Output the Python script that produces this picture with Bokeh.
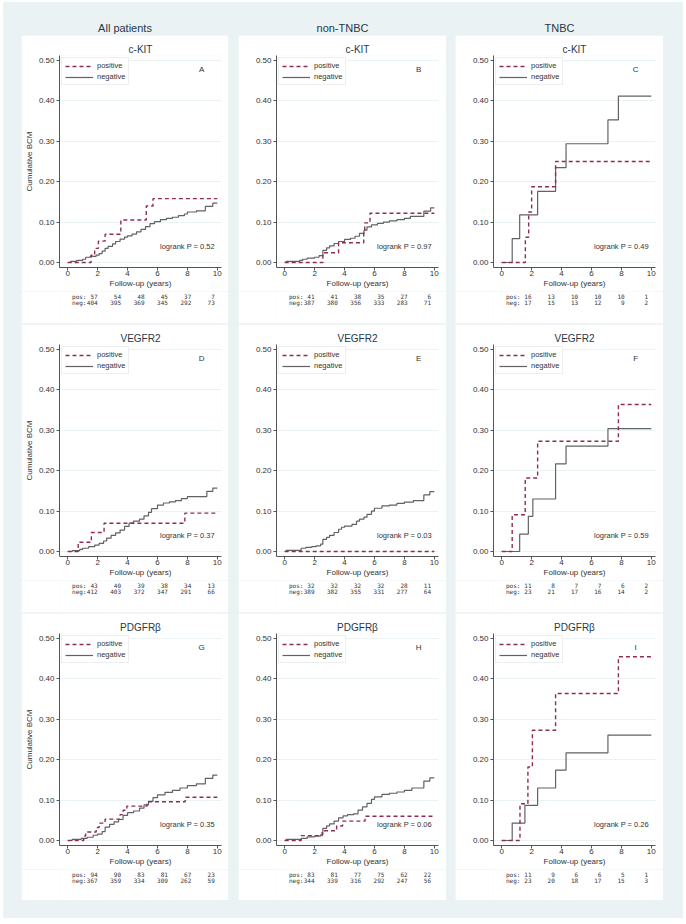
from bokeh.plotting import figure
from bokeh.layouts import row, column
from bokeh.models import (Spacer, Label, Legend, LegendItem, NumeralTickFormatter,
                          FixedTicker, Range1d)
from bokeh.core.properties import value
from bokeh.embed import file_html
from bokeh.resources import INLINE

# ---------------- data ----------------
groups = ["All patients", "non-TNBC", "TNBC"]
markers = ["c-KIT", "VEGFR2", "PDGFRβ"]
letters = [["A", "B", "C"], ["D", "E", "F"], ["G", "H", "I"]]
logrank_p = [["0.52", "0.97", "0.49"], ["0.37", "0.03", "0.59"], ["0.35", "0.06", "0.26"]]
risk_times = [0, 2, 4, 6, 8, 10]

# numbers at risk
pos_A = [57, 54, 48, 45, 37, 7];     neg_A = [404, 395, 369, 345, 292, 73]
pos_B = [41, 41, 38, 35, 27, 6];     neg_B = [387, 380, 356, 333, 283, 71]
pos_C = [16, 13, 10, 10, 10, 1];     neg_C = [17, 15, 13, 12, 9, 2]
pos_D = [43, 40, 39, 38, 34, 13];    neg_D = [412, 403, 372, 347, 291, 66]
pos_E = [32, 32, 32, 32, 28, 11];    neg_E = [389, 382, 355, 331, 277, 64]
pos_F = [11, 8, 7, 7, 6, 2];         neg_F = [23, 21, 17, 16, 14, 2]
pos_G = [94, 90, 83, 81, 67, 23];    neg_G = [367, 359, 334, 309, 262, 59]
pos_H = [83, 81, 77, 75, 62, 22];    neg_H = [344, 339, 316, 292, 247, 56]
pos_I = [11, 9, 6, 6, 5, 1];         neg_I = [23, 20, 18, 17, 15, 3]

# cumulative BCM step curves (time in years, cumulative incidence)
A_pos_t = [0, 1.56, 1.8, 2.05, 2.5, 3.55, 5.25, 5.7, 10]
A_pos_y = [0, 0.018, 0.035, 0.053, 0.070, 0.105, 0.140, 0.158, 0.158]
A_neg_t = [0, 0.2, 0.6, 1.0, 1.2, 1.5, 1.9, 2.1, 2.3, 2.5, 2.7, 3.0, 3.2, 3.5, 3.8, 4.0, 4.3,
           4.6, 4.9, 5.2, 5.5, 5.8, 6.2, 6.6, 7.0, 7.4, 7.8, 8.0, 8.6, 9.2, 9.7, 10]
A_neg_y = [0, 0.003, 0.005, 0.008, 0.013, 0.015, 0.018, 0.022, 0.028, 0.035, 0.040, 0.046,
           0.052, 0.058, 0.063, 0.066, 0.070, 0.076, 0.082, 0.089, 0.096, 0.101, 0.106,
           0.109, 0.112, 0.116, 0.120, 0.125, 0.128, 0.139, 0.147, 0.147]

B_pos_t = [0, 2.55, 3.6, 5.28, 5.35, 5.7, 10]
B_pos_y = [0, 0.024, 0.049, 0.073, 0.098, 0.122, 0.122]
B_neg_t = [0, 0.1, 1.0, 1.2, 1.5, 2.0, 2.3, 2.55, 2.8, 3.0, 3.3, 3.6, 4.0, 4.4, 4.7, 5.0, 5.3,
           5.5, 5.8, 6.2, 6.6, 7.0, 7.5, 8.0, 8.4, 9.3, 9.75, 10]
B_neg_y = [0, 0.003, 0.005, 0.008, 0.011, 0.013, 0.017, 0.030, 0.036, 0.041, 0.047, 0.052,
           0.057, 0.060, 0.065, 0.072, 0.080, 0.088, 0.093, 0.097, 0.100, 0.103, 0.106,
           0.109, 0.114, 0.127, 0.135, 0.135]

C_pos_t = [0, 1.58, 1.8, 2.0, 3.6, 10]
C_pos_y = [0, 0.0625, 0.125, 0.1875, 0.25, 0.25]
C_neg_t = [0, 0.7, 1.2, 2.4, 3.6, 4.3, 7.1, 7.8, 10]
C_neg_y = [0, 0.059, 0.118, 0.176, 0.235, 0.294, 0.353, 0.412, 0.412]

D_pos_t = [0, 0.7, 1.58, 2.43, 7.83, 10]
D_pos_y = [0, 0.023, 0.047, 0.070, 0.095, 0.095]
D_neg_t = [0, 0.3, 0.8, 1.0, 1.4, 1.8, 2.1, 2.4, 2.6, 2.9, 3.2, 3.5, 3.8, 4.1, 4.4, 4.8, 5.1,
           5.4, 5.6, 6.0, 6.4, 6.8, 7.2, 7.6, 8.0, 9.3, 9.7, 10]
D_neg_y = [0, 0.002, 0.005, 0.008, 0.012, 0.016, 0.020, 0.026, 0.033, 0.040, 0.046, 0.053,
           0.062, 0.070, 0.075, 0.080, 0.088, 0.097, 0.106, 0.115, 0.120, 0.123, 0.126,
           0.131, 0.136, 0.149, 0.157, 0.157]

E_pos_t = [0, 10]
E_pos_y = [0, 0]
E_neg_t = [0, 0.1, 1.1, 1.4, 1.8, 2.1, 2.4, 2.55, 2.8, 3.0, 3.3, 3.6, 3.8, 4.0, 4.5, 4.8, 5.0,
           5.3, 5.5, 5.8, 6.0, 6.5, 7.0, 7.5, 8.0, 8.6, 9.3, 9.7, 10]
E_neg_y = [0, 0.003, 0.008, 0.010, 0.012, 0.014, 0.018, 0.030, 0.035, 0.040, 0.047, 0.055,
           0.060, 0.063, 0.067, 0.075, 0.080, 0.085, 0.092, 0.100, 0.107, 0.113, 0.115,
           0.119, 0.122, 0.126, 0.140, 0.148, 0.148]

F_pos_t = [0, 0.7, 1.57, 2.4, 7.8, 10]
F_pos_y = [0, 0.091, 0.182, 0.273, 0.364, 0.364]
F_neg_t = [0, 1.2, 1.78, 2.08, 3.6, 4.3, 7.1, 10]
F_neg_y = [0, 0.043, 0.087, 0.130, 0.217, 0.261, 0.304, 0.304]

G_pos_t = [0, 1.07, 1.2, 1.9, 2.1, 2.5, 3.5, 3.7, 3.95, 5.3, 7.85, 10]
G_pos_y = [0, 0.011, 0.021, 0.032, 0.043, 0.053, 0.064, 0.075, 0.085, 0.096, 0.107, 0.107]
G_neg_t = [0, 0.3, 0.9, 1.3, 1.7, 2.0, 2.3, 2.5, 2.8, 3.1, 3.4, 3.7, 4.0, 4.4, 4.8, 5.1, 5.4,
           5.7, 6.0, 6.5, 7.0, 7.5, 8.0, 8.6, 9.2, 9.7, 10]
G_neg_y = [0, 0.003, 0.005, 0.008, 0.013, 0.016, 0.022, 0.033, 0.040, 0.046, 0.052, 0.062,
           0.069, 0.073, 0.080, 0.088, 0.097, 0.106, 0.113, 0.119, 0.124, 0.130, 0.136,
           0.140, 0.154, 0.162, 0.162]

H_pos_t = [0, 1.1, 2.5, 3.47, 3.87, 5.37, 10]
H_pos_y = [0, 0.012, 0.024, 0.036, 0.048, 0.060, 0.060]
H_neg_t = [0, 0.1, 1.1, 1.5, 2.0, 2.4, 2.55, 2.8, 3.0, 3.3, 3.6, 3.9, 4.2, 4.6, 4.9, 5.2, 5.5,
           5.8, 6.0, 6.5, 7.0, 7.5, 8.0, 8.5, 9.3, 9.7, 10]
H_neg_y = [0, 0.003, 0.005, 0.009, 0.011, 0.014, 0.030, 0.036, 0.041, 0.048, 0.056, 0.061,
           0.064, 0.066, 0.075, 0.083, 0.092, 0.102, 0.108, 0.114, 0.117, 0.120, 0.124,
           0.130, 0.147, 0.155, 0.155]

I_pos_t = [0, 1.22, 1.75, 2.05, 3.6, 7.8, 10]
I_pos_y = [0, 0.091, 0.182, 0.273, 0.364, 0.455, 0.455]
I_neg_t = [0, 0.7, 1.55, 2.4, 3.6, 4.3, 7.1, 10]
I_neg_y = [0, 0.043, 0.087, 0.130, 0.174, 0.217, 0.261, 0.261]

curves = {
    "A": (A_pos_t, A_pos_y, A_neg_t, A_neg_y, pos_A, neg_A),
    "B": (B_pos_t, B_pos_y, B_neg_t, B_neg_y, pos_B, neg_B),
    "C": (C_pos_t, C_pos_y, C_neg_t, C_neg_y, pos_C, neg_C),
    "D": (D_pos_t, D_pos_y, D_neg_t, D_neg_y, pos_D, neg_D),
    "E": (E_pos_t, E_pos_y, E_neg_t, E_neg_y, pos_E, neg_E),
    "F": (F_pos_t, F_pos_y, F_neg_t, F_neg_y, pos_F, neg_F),
    "G": (G_pos_t, G_pos_y, G_neg_t, G_neg_y, pos_G, neg_G),
    "H": (H_pos_t, H_pos_y, H_neg_t, H_neg_y, pos_H, neg_H),
    "I": (I_pos_t, I_pos_y, I_neg_t, I_neg_y, pos_I, neg_I),
}

# ---------------- style / layout ----------------
BG = "#eaf2f3"
SEP = "#eef3f4"
POS_COLOR = "#8e2c57"
NEG_COLOR = "#626262"
TXT = "#333333"
TITLE_C = "#26384a"
FONT = "Liberation Sans"
MONO = "DejaVu Sans Mono"

COL_W = [207, 208, 208]
MAIN_H = 256
RISK_H = [32, 32, 31]
X0, X1 = -0.55, 10.28
FRAME_L, FRAME_W = 38, 162
PX_PER_YEAR = FRAME_W / (X1 - X0)


def make_main(r, c):
    w = COL_W[c]
    letter = letters[r][c]
    pt, py, nt, ny, _, _ = curves[letter]
    p = figure(width=w, height=MAIN_H, output_backend="svg", toolbar_location=None,
               x_range=Range1d(X0, X1), y_range=Range1d(-0.0124, 0.5124),
               min_border_left=FRAME_L, min_border_right=w - FRAME_L - FRAME_W,
               min_border_top=20, min_border_bottom=MAIN_H - 20 - 212,
               background_fill_color="white", border_fill_color="white",
               outline_line_color=None)
    p.title.text = markers[r]
    p.title.align = "center"
    p.title.text_font = FONT
    p.title.text_font_size = "10px"
    p.title.text_font_style = "normal"
    p.title.text_color = TITLE_C
    p.title.standoff = 2

    p.xaxis.ticker = FixedTicker(ticks=risk_times)
    p.yaxis.ticker = FixedTicker(ticks=[0, 0.1, 0.2, 0.3, 0.4, 0.5])
    p.yaxis.formatter = NumeralTickFormatter(format="0.00")
    p.axis.minor_tick_line_color = None
    p.axis.major_tick_in = 0
    p.axis.major_tick_out = 3
    p.xaxis.major_label_standoff = 0
    p.yaxis.major_label_standoff = 2
    p.axis.axis_line_color = "#555555"
    p.axis.major_tick_line_color = "#555555"
    p.axis.major_label_text_font = FONT
    p.axis.major_label_text_font_size = "8px"
    p.axis.major_label_text_color = TXT
    p.xaxis.axis_label = "Follow-up (years)"
    p.axis.axis_label_text_font = FONT
    p.axis.axis_label_text_font_size = "8px"
    p.axis.axis_label_text_font_style = "normal"
    p.axis.axis_label_text_color = TXT
    p.xaxis.axis_label_standoff = 0
    if c == 0:
        p.yaxis.axis_label = "Cumulative BCM"
        p.yaxis.axis_label_standoff = 2
    p.xgrid.visible = False
    p.ygrid.ticker = FixedTicker(ticks=[0, 0.1, 0.2, 0.3, 0.4, 0.5])
    p.ygrid.grid_line_color = BG
    p.ygrid.grid_line_width = 1

    rn = p.step(nt, ny, mode="after", line_color=NEG_COLOR, line_width=1.2)
    rp = p.step(pt, py, mode="after", line_color=POS_COLOR, line_width=1.4,
                line_dash="4 3")

    legend = Legend(items=[LegendItem(label="positive", renderers=[rp]),
                           LegendItem(label="negative", renderers=[rn])],
                    location="top_left", margin=2, padding=3, spacing=2,
                    glyph_width=28, glyph_height=8, label_height=8, label_standoff=4,
                    label_text_font=FONT, label_text_font_size="7.5px",
                    label_text_color=TXT, border_line_color="#d8dfe2",
                    background_fill_color="white", background_fill_alpha=1.0)
    p.add_layout(legend)

    p.add_layout(Label(x=8.95, y=0.477, text=letter, text_align="center",
                       text_baseline="middle", text_font=FONT, text_font_size="8px",
                       text_color=TXT))
    p.add_layout(Label(x=8.0, y=0.04, text="logrank P = " + logrank_p[r][c],
                       text_align="center", text_baseline="middle", text_font=FONT,
                       text_font_size="7.5px", text_color=TXT))
    return p


def make_risk(r, c):
    w, h = COL_W[c], RISK_H[r]
    _, _, _, _, prisk, nrisk = curves[letters[r][c]]
    xl = X0 - FRAME_L / PX_PER_YEAR
    xr = xl + w / PX_PER_YEAR
    q = figure(width=w, height=h, output_backend="svg", toolbar_location=None,
               x_range=Range1d(xl, xr), y_range=Range1d(h, 0),
               x_axis_type=None, y_axis_type=None, min_border=0,
               background_fill_color="white", border_fill_color="white",
               outline_line_color=None)
    q.grid.visible = False
    for lab, vals, yy in (("pos:", prisk, 5), ("neg:", nrisk, 11)):
        q.text(x=[-2.02], y=[yy], text=[lab], text_align="left",
               text_baseline="middle", text_font=value(MONO),
               text_font_size="6px", text_color=TXT)
        q.text(x=risk_times, y=[yy] * len(risk_times), text=[str(v) for v in vals],
               x_offset=2, text_align="right", text_baseline="middle",
               text_font=value(MONO), text_font_size="6px", text_color=TXT)
    return q


def make_title(c):
    w = COL_W[c]
    t = figure(width=w, height=33, output_backend="svg", toolbar_location=None,
               x_range=Range1d(0, 1), y_range=Range1d(0, 1),
               x_axis_type=None, y_axis_type=None, min_border=0,
               background_fill_color=BG, border_fill_color=BG, outline_line_color=None)
    t.grid.visible = False
    t.add_layout(Label(x=0.5, y=1 - 25 / 33, text=groups[c], text_align="center",
                       text_baseline="middle", text_font=FONT, text_font_size="11px",
                       text_color=TITLE_C))
    return t


cols = []
for c in range(3):
    cells = [column([make_main(r, c), make_risk(r, c)]) for r in range(3)]
    inner = column(cells, spacing=1, styles={"background-color": SEP})
    cols.append(column([make_title(c), inner, Spacer(width=COL_W[c], height=18)]))

outer = row([Spacer(width=18, height=916), cols[0], Spacer(width=10, height=916),
             cols[1], Spacer(width=9, height=916), cols[2],
             Spacer(width=20, height=916)],
            styles={"background-color": BG, "margin-left": "3px", "margin-top": "2px"})

open("out.html", "w").write(file_html(outer, INLINE, "Cumulative BCM"))
